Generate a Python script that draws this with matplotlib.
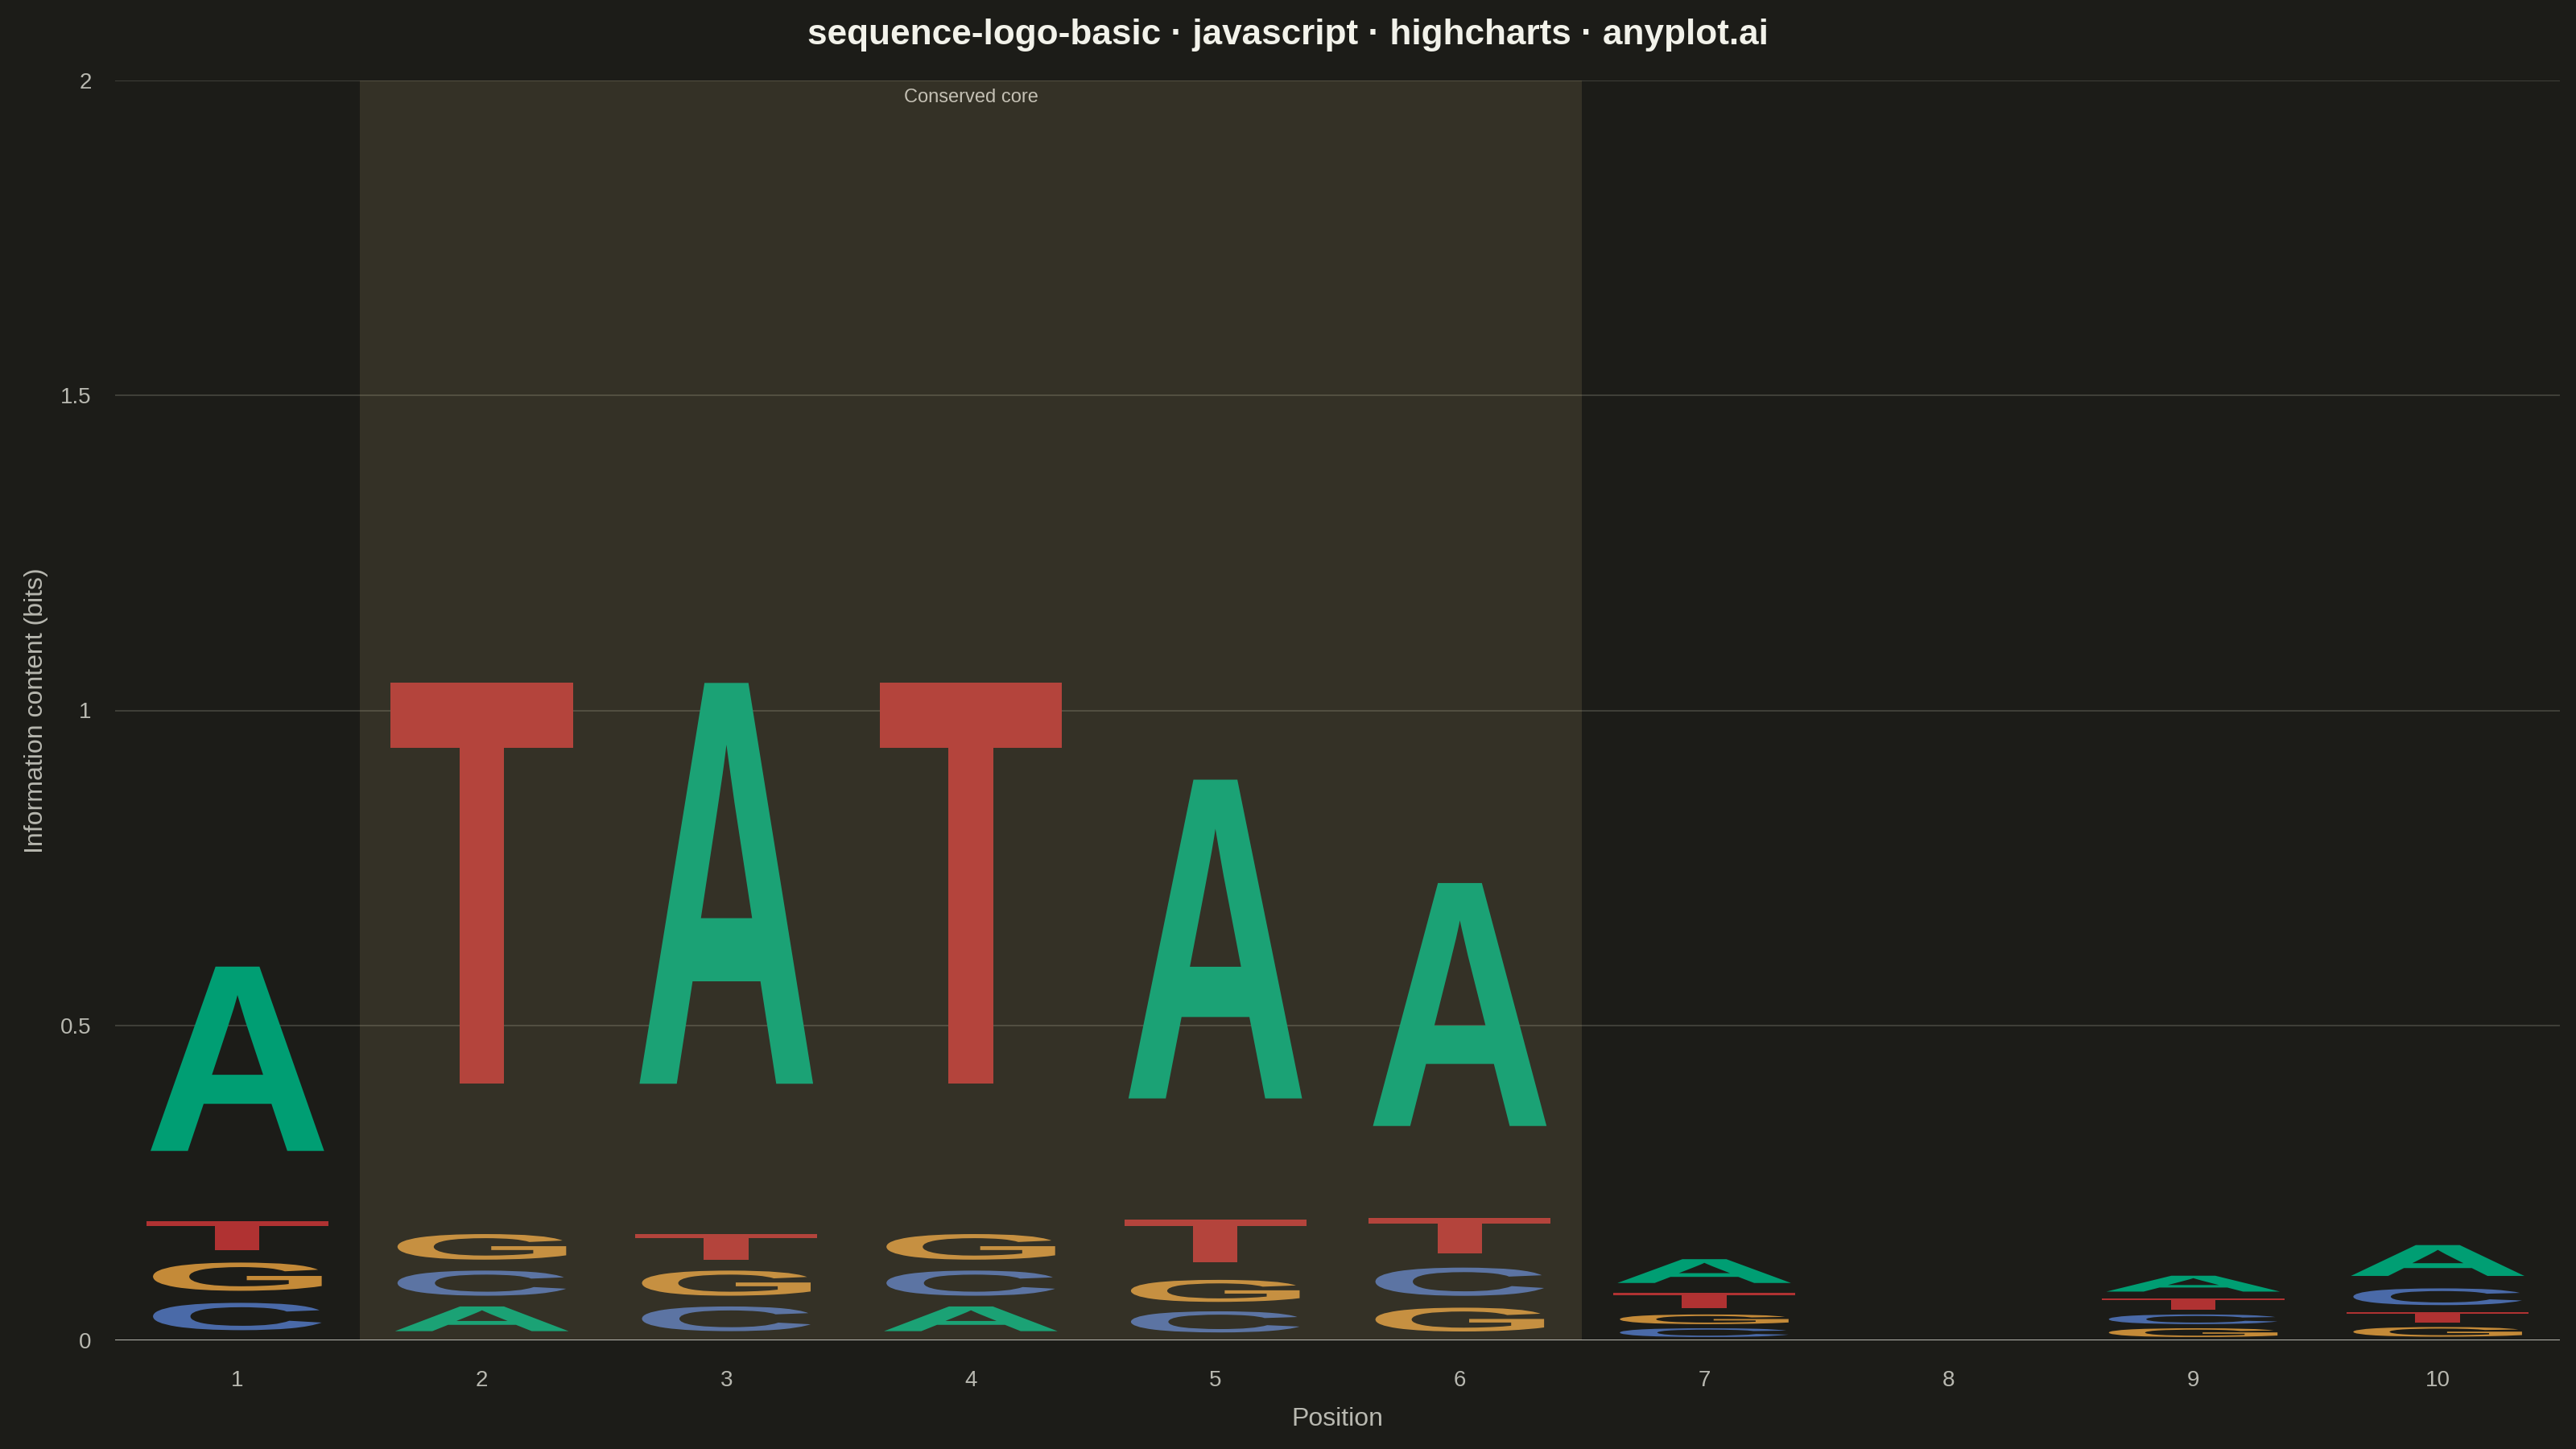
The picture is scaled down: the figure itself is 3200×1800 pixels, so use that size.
import matplotlib
matplotlib.use("Agg")
import matplotlib.pyplot as plt
from matplotlib.textpath import TextPath
from matplotlib.font_manager import FontProperties
from matplotlib.patches import PathPatch
from matplotlib.transforms import Affine2D

# information content (bits) per base at each position
positions = [1, 2, 3, 4, 5, 6, 7, 8, 9, 10]
bits_A = [0.418, 0.056, 0.909, 0.056, 0.723, 0.551, 0.054, 0.0, 0.036, 0.070]
bits_C = [0.062, 0.057, 0.056, 0.057, 0.048, 0.064, 0.020, 0.0, 0.022, 0.038]
bits_G = [0.064, 0.058, 0.057, 0.058, 0.050, 0.054, 0.022, 0.0, 0.020, 0.022]
bits_T = [0.066, 0.909, 0.058, 0.909, 0.098, 0.079, 0.035, 0.0, 0.026, 0.024]

core_start, core_end = 2, 6
y_ticks = [0, 0.5, 1, 1.5, 2]
y_tick_labels = ["0", "0.5", "1", "1.5", "2"]

colors = {"A": "#009E73", "C": "#4A6AA8", "G": "#C48A38", "T": "#B03232"}
widths = {"A": 0.71, "C": 0.69, "G": 0.69, "T": 0.745}
bg = "#1C1C18"
txt = "#B8B8B0"

plt.rcParams["font.family"] = ["Liberation Sans", "DejaVu Sans"]
letter_font = FontProperties(family="Liberation Sans", weight="bold")


def draw_letter(ax, letter, x, y0, h):
    # glyph sits inside its stack slot, a bit of room below and above
    path = TextPath((0, 0), letter, size=1, prop=letter_font)
    ext = path.get_extents()
    w = widths[letter]
    gb = y0 + 0.26 * h
    gh = 0.70 * h
    tr = (Affine2D()
          .translate(-ext.x0, -ext.y0)
          .scale(w / ext.width, gh / ext.height)
          .translate(x - w / 2, gb))
    patch = PathPatch(tr.transform_path(path), facecolor=colors[letter],
                      edgecolor="none", zorder=2)
    ax.add_patch(patch)


fig = plt.figure(figsize=(16, 9), dpi=200, facecolor=bg)
ax = fig.add_axes([143 / 3200, 135 / 1800, 3037 / 3200, 1565 / 1800])
ax.set_facecolor(bg)

for i, pos in enumerate(positions):
    stack = [("A", bits_A[i]), ("C", bits_C[i]), ("G", bits_G[i]), ("T", bits_T[i])]
    stack = sorted(stack, key=lambda s: s[1])
    y0 = 0
    for letter, h in stack:
        if h > 0:
            draw_letter(ax, letter, pos, y0, h)
        y0 += h

ax.axvspan(core_start - 0.5, core_end + 0.5, color="#D6BF85", alpha=0.13,
           lw=0, zorder=3)
ax.text((core_start + core_end) / 2, 1.973, "Conserved core", ha="center",
        va="center", fontsize=8.5, color="#C4C0B4", zorder=5)

for y in y_ticks[1:]:
    ax.axhline(y, color="#4A4A43", lw=0.55, zorder=0.5)
ax.axhline(0, color="#C8C8C0", lw=1.0, zorder=4)

ax.set_xlim(0.5, 10.5)
ax.set_ylim(0, 2)
ax.set_xticks(positions)
ax.set_xticklabels([str(p) for p in positions])
ax.set_yticks(y_ticks)
ax.set_yticklabels(y_tick_labels)
ax.tick_params(length=0, colors=txt, labelsize=10)
ax.tick_params(axis="x", pad=13.5)
ax.tick_params(axis="y", pad=10.5)
for s in ax.spines.values():
    s.set_visible(False)

ax.set_xlabel("Position", fontsize=11.5, color=txt, labelpad=7)
ax.set_ylabel("Information content (bits)", fontsize=11.5, color=txt, labelpad=5.5)

fig.text(0.5, 1 - 43 / 1800, "sequence-logo-basic · javascript · highcharts · anyplot.ai",
         ha="center", va="center", fontsize=15.9, fontweight="bold", color="#F2F2EA")

fig.savefig("out.png", dpi=200, facecolor=bg)
